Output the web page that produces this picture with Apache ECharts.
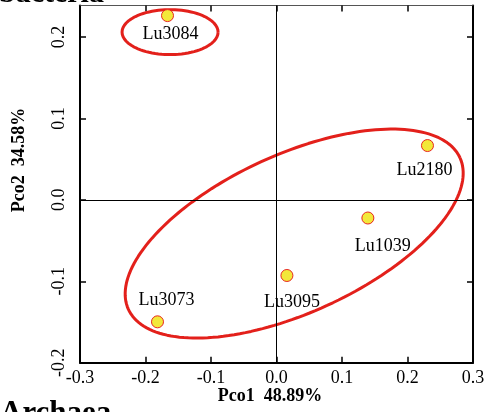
<!DOCTYPE html>
<html>
<head>
<meta charset="utf-8">
<script src="https://cdn.jsdelivr.net/npm/echarts@6/dist/echarts.min.js"></script>
<style>
html,body{margin:0;padding:0;background:#fff;}
#chart{width:491px;height:412px;}
</style>
</head>
<body>
<div id="chart"></div>
<script>
// ---- data ----
const sampleNames = ['Lu3084', 'Lu2180', 'Lu1039', 'Lu3095', 'Lu3073'];
const pco1 = [-0.1664, 0.2305, 0.1395, 0.0159, -0.1817];
const pco2 = [0.2263, 0.0667, -0.0223, -0.0929, -0.1498];
const xTicks = [-0.3, -0.2, -0.1, 0.0, 0.1, 0.2, 0.3];
const yTicks = [-0.2, -0.1, 0.0, 0.1, 0.2];
const xAxisTitle = 'Pco1  48.89%';
const yAxisTitle = 'Pco2  34.58%';
// group ellipses (data units): center, conjugate semi-axis vectors
const ellipseCenterX = [-0.1625, 0.0270];
const ellipseCenterY = [0.2060, -0.0414];
const ellipseUx = [0.0733, 0.2531];
const ellipseUy = [0.0, 0.0931];
const ellipseVx = [0.0, -0.0502];
const ellipseVy = [0.0276, 0.0883];

const labelOffsets = [[3, 19], [-3, 25], [15, 28], [5, 27], [9, -22]];

const serif = 'Liberation Serif';

function ellipsePoints(i) {
  const pts = [];
  const n = 180;
  for (let k = 0; k <= n; k++) {
    const t = 2 * Math.PI * k / n;
    pts.push([
      ellipseCenterX[i] + ellipseUx[i] * Math.cos(t) + ellipseVx[i] * Math.sin(t),
      ellipseCenterY[i] + ellipseUy[i] * Math.cos(t) + ellipseVy[i] * Math.sin(t)
    ]);
  }
  return pts;
}

const scatterData = sampleNames.map((n, i) => ({
  name: n,
  value: [pco1[i], pco2[i]],
  label: { offset: labelOffsets[i] }
}));

const chart = echarts.init(document.getElementById('chart'), null, { renderer: 'canvas' });

const axisBase = {
  type: 'value',
  splitLine: { show: false },
  axisLine: { show: true, onZero: false, lineStyle: { color: '#000', width: 2 } },
  axisTick: { show: true, inside: true, length: 6, lineStyle: { color: '#000', width: 1.5 } },
};

const option = {
  backgroundColor: '#fff',
  animation: false,
  grid: { left: 80, right: 18, top: 5.5, bottom: 49.3, containLabel: false },
  xAxis: [
    Object.assign({}, axisBase, {
      min: -0.3, max: 0.3, interval: 0.1, position: 'bottom',
      axisTick: Object.assign({}, axisBase.axisTick, { customValues: xTicks }),
      axisLabel: {
        customValues: xTicks,
        formatter: v => v.toFixed(1),
        fontFamily: serif, fontSize: 18, color: '#000', margin: 7
      }
    }),
    Object.assign({}, axisBase, {
      min: -0.3, max: 0.3, interval: 0.1, position: 'top',
      axisLine: { show: true, onZero: false, lineStyle: { color: '#555', width: 1 } },
      axisTick: Object.assign({}, axisBase.axisTick, { customValues: xTicks }),
      axisLabel: { show: false }
    })
  ],
  yAxis: [
    Object.assign({}, axisBase, {
      min: -0.2, max: 0.2387, position: 'left',
      axisTick: Object.assign({}, axisBase.axisTick, { customValues: yTicks }),
      axisLabel: {
        customValues: yTicks,
        formatter: v => v.toFixed(1),
        rotate: 90,
        fontFamily: serif, fontSize: 18, color: '#000', margin: 12
      }
    }),
    Object.assign({}, axisBase, {
      min: -0.2, max: 0.2387, position: 'right',
      axisTick: Object.assign({}, axisBase.axisTick, { customValues: yTicks }),
      axisLabel: { show: false }
    })
  ],
  graphic: [
    {
      type: 'text', x: 270, y: 396,
      style: { text: xAxisTitle, font: 'bold 18px "Liberation Serif"', fill: '#000', textAlign: 'center', textVerticalAlign: 'middle' }
    },
    {
      type: 'text', x: 19, y: 160, rotation: Math.PI / 2,
      style: { text: yAxisTitle, font: 'bold 18px "Liberation Serif"', fill: '#000', textAlign: 'center', textVerticalAlign: 'middle' }
    },
    {
      type: 'text', x: -1, y: 9.5,
      style: { text: 'bacteria', font: 'bold 30px "Liberation Serif"', fill: '#000', textAlign: 'left', textVerticalAlign: 'bottom' }
    },
    {
      type: 'text', x: 0, y: 398.5,
      style: { text: 'Archaea', font: 'bold 31px "Liberation Serif"', fill: '#000', textAlign: 'left', textVerticalAlign: 'top' }
    }
  ],
  series: [
    {
      type: 'line',
      data: ellipsePoints(0),
      showSymbol: false, smooth: false, clip: false, silent: true, z: 3,
      lineStyle: { color: '#e3201b', width: 3 }
    },
    {
      type: 'line',
      data: ellipsePoints(1),
      showSymbol: false, smooth: false, clip: false, silent: true, z: 3,
      lineStyle: { color: '#e3201b', width: 3 },
      markLine: {
        silent: true, symbol: 'none', animation: false,
        label: { show: false },
        lineStyle: { color: '#000', width: 1, type: 'solid' },
        data: [{ xAxis: 0 }, { yAxis: 0 }]
      }
    },
    {
      type: 'scatter',
      data: scatterData,
      symbol: 'circle', symbolSize: 12, z: 5,
      itemStyle: { color: '#f2e83a', borderColor: '#e8261e', borderWidth: 1, opacity: 1 },
      label: {
        show: true, position: 'inside', formatter: p => p.name,
        fontFamily: serif, fontSize: 18, color: '#000'
      }
    }
  ]
};
chart.setOption(option);
</script>
</body>
</html>
